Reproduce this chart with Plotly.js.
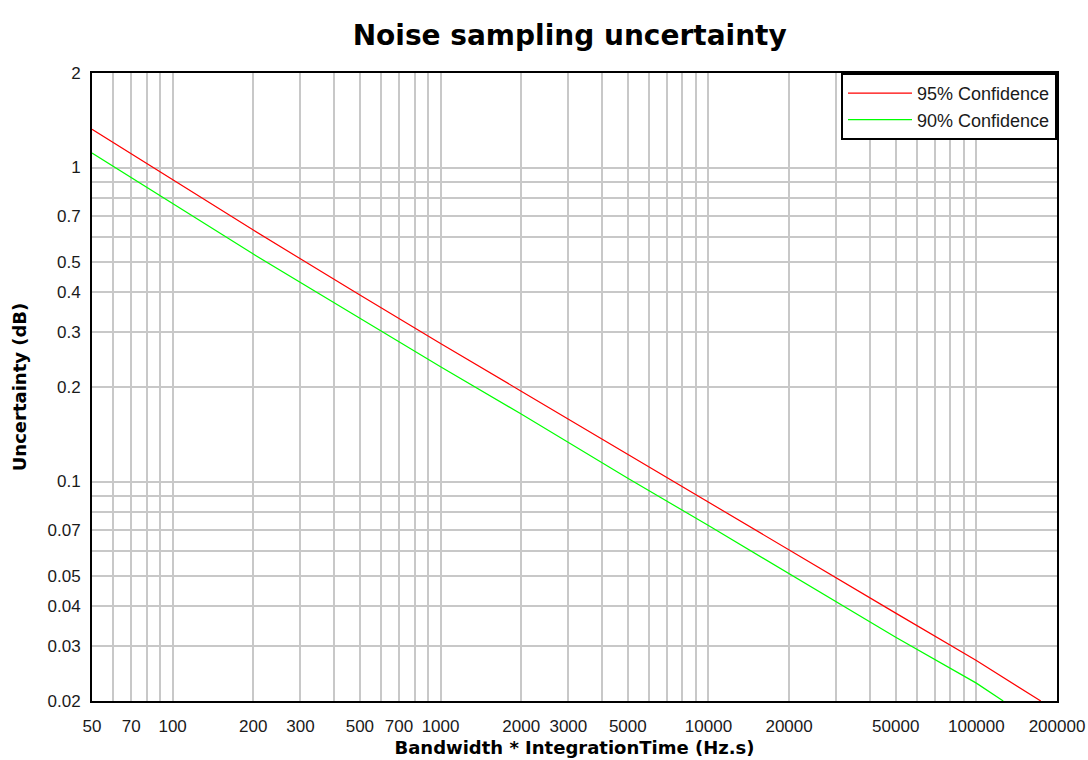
<!DOCTYPE html>
<html>
<head>
<meta charset="utf-8">
<script src="https://cdn.plot.ly/plotly-3.0.1.min.js"></script>
<style>
  html, body { margin: 0; padding: 0; background: #ffffff; }
  #chart { width: 1088px; height: 760px; }
</style>
</head>
<body>
<div id="chart"></div>
<script>
// Series
const bt95 = [50, 100, 200, 500, 1000, 2000, 5000, 10000, 20000, 50000, 100000, 174000];
const u95  = [1.323, 0.917, 0.632, 0.3925, 0.275, 0.194, 0.122, 0.0856, 0.0605, 0.0381, 0.0269, 0.02];
const bt90 = [50, 100, 200, 500, 1000, 2000, 5000, 10000, 20000, 50000, 100000, 126000];
const u90  = [1.112, 0.767, 0.530, 0.331, 0.232, 0.164, 0.1025, 0.0724, 0.0509, 0.0319, 0.0228, 0.02];

const seriesNames = ["95% Confidence", "90% Confidence"];

// Tick / gridline positions and labels
const xTickVals = [50, 60, 70, 80, 90, 100, 200, 300, 400, 500, 600, 700, 800, 900,
  1000, 2000, 3000, 4000, 5000, 6000, 7000, 8000, 9000,
  10000, 20000, 30000, 40000, 50000, 60000, 70000, 80000, 90000, 100000, 200000];
const xTickText = ["50", "", "70", "", "", "100", "200", "300", "", "500", "", "700", "", "",
  "1000", "2000", "3000", "", "5000", "", "", "", "",
  "10000", "20000", "", "", "50000", "", "", "", "", "100000", "200000"];
const yTickVals = [0.02, 0.03, 0.04, 0.05, 0.06, 0.07, 0.08, 0.09,
  0.1, 0.2, 0.3, 0.4, 0.5, 0.6, 0.7, 0.8, 0.9, 1, 2];
const yTickText = ["0.02", "0.03", "0.04", "0.05", "", "0.07", "", "",
  "0.1", "0.2", "0.3", "0.4", "0.5", "", "0.7", "", "", "1", "2"];

const traces = [
  { x: bt95, y: u95, name: seriesNames[0], type: "scatter", mode: "lines",
    line: { color: "#ff0000", width: 1.2 } },
  { x: bt90, y: u90, name: seriesNames[1], type: "scatter", mode: "lines",
    line: { color: "#00ff00", width: 1.2 } }
];

const tickFont = { family: "Liberation Sans, Arial, sans-serif", size: 17, color: "#1a1a1a" };
const titleFont = { family: "DejaVu Sans, sans-serif", size: 18, color: "#000000" };

const layout = {
  width: 1088, height: 760,
  margin: { l: 92, r: 31, t: 73, b: 59, pad: 0 },
  paper_bgcolor: "#ffffff", plot_bgcolor: "#ffffff",
  title: {
    text: "<b>Noise sampling uncertainty</b>",
    font: { family: "DejaVu Sans, sans-serif", size: 28, color: "#000000" },
    x: 0.495, xref: "paper", xanchor: "center",
    y: 1 - 35 / 760, yref: "container", yanchor: "middle"
  },
  xaxis: {
    type: "log",
    range: [Math.log10(50), Math.log10(200000)],
    tickmode: "array", tickvals: xTickVals, ticktext: xTickText,
    tickangle: 0,
    ticks: "", ticklabelstandoff: 9,
    tickfont: tickFont,
    showgrid: true, gridcolor: "#c8c8c8", gridwidth: 2,
    showline: true, linecolor: "#000000", linewidth: 2, mirror: true,
    zeroline: false,
    title: { text: "<b>Bandwidth * IntegrationTime (Hz.s)</b>", font: titleFont, standoff: 6 }
  },
  yaxis: {
    type: "log",
    range: [Math.log10(0.02), Math.log10(2)],
    tickmode: "array", tickvals: yTickVals, ticktext: yTickText,
    ticks: "", ticklabelstandoff: 6,
    tickfont: tickFont,
    showgrid: true, gridcolor: "#c8c8c8", gridwidth: 2,
    showline: true, linecolor: "#000000", linewidth: 2, mirror: true,
    zeroline: false,
    title: { text: "<b>Uncertainty (dB)</b>", font: titleFont, standoff: 16 }
  },
  showlegend: true,
  legend: {
    x: 1, xanchor: "right", y: 1, yanchor: "top",
    bgcolor: "#ffffff", bordercolor: "#000000", borderwidth: 2,
    font: { family: "Liberation Sans, Arial, sans-serif", size: 18, color: "#1a1a1a" },
    itemwidth: 64,
    traceorder: "normal"
  }
};

Plotly.newPlot("chart", traces, layout, { displayModeBar: false, staticPlot: true });
</script>
</body>
</html>
